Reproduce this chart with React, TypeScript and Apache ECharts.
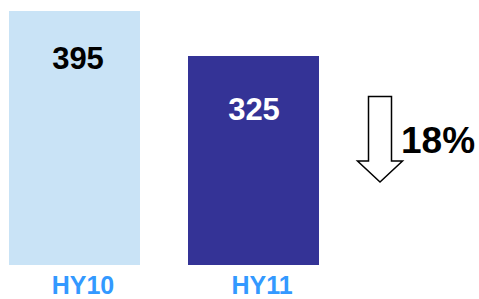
import React, { useEffect, useRef } from "react";
import * as echarts from "echarts";

const categories = ["HY10", "HY11"];
const values = [395, 325];
const barColors = ["#C9E3F6", "#343396"];
const labelColors = ["#000000", "#FFFFFF"];
const changeLabel = "18%";

export default function App() {
  const ref = useRef<HTMLDivElement>(null);
  useEffect(() => {
    if (!ref.current) return;
    const chart = echarts.init(ref.current, undefined, { renderer: "svg" });
    const font = "Liberation Sans, Arial, sans-serif";
    chart.setOption({
      animation: false,
      grid: { left: -15, width: 358, top: 11, bottom: 34, outerBoundsMode: "none", containLabel: false },
      xAxis: {
        type: "category",
        data: categories,
        axisLine: { show: false },
        axisTick: { show: false },
        axisLabel: {
          margin: 9,
          color: "#3399FF",
          fontWeight: "bold",
          fontSize: 25,
          lineHeight: 22,
          fontFamily: font,
          padding: [0, 0, 0, 17],
        },
      },
      yAxis: { type: "value", min: 0, max: 395, show: false },
      series: [
        {
          type: "bar",
          barWidth: 131,
          data: values.map((v, i) => ({
            value: v,
            itemStyle: { color: barColors[i] },
            label: {
              show: true,
              position: "insideTop",
              distance: i === 0 ? 32 : 38,
              offset: [i === 0 ? 3.5 : 0.5, 0],
              color: labelColors[i],
              fontSize: 31,
              lineHeight: 31,
              fontWeight: "bold",
              fontFamily: font,
            },
          })),
        },
      ],
      graphic: [
        {
          type: "polygon",
          shape: {
            points: [
              [368.5, 96.5],
              [391.5, 96.5],
              [391.5, 161],
              [402.5, 161],
              [380, 182],
              [357.5, 161],
              [368.5, 161],
            ],
          },
          style: { fill: "#FFFFFF", stroke: "#000000", lineWidth: 1.5 },
        },
        {
          type: "text",
          x: 401,
          y: 140,
          style: {
            text: changeLabel,
            fill: "#000000",
            fontSize: 37,
            fontWeight: "bold",
            fontFamily: font,
            verticalAlign: "middle",
          },
        },
      ],
    });
    return () => chart.dispose();
  }, []);
  return <div ref={ref} style={{ width: 479, height: 299, position: "absolute", left: 0, top: 0 }} />;
}
